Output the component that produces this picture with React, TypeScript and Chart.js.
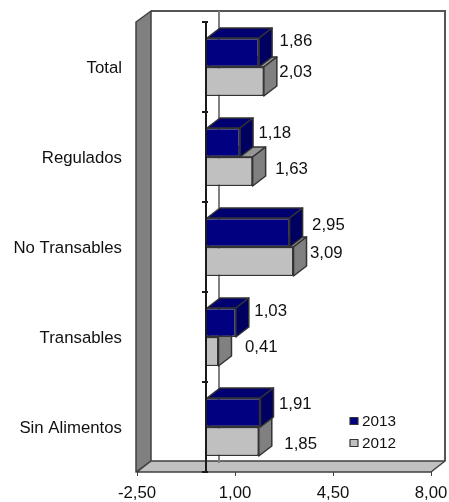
import React, { useEffect, useRef } from "react";
import { Chart, registerables } from "chart.js";

Chart.register(...registerables);

const categories = ["Total", "Regulados", "No Transables", "Transables", "Sin Alimentos"];
const series2013 = [1.86, 1.18, 2.95, 1.03, 1.91];
const series2012 = [2.03, 1.63, 3.09, 0.41, 1.85];
const xTicks = [-2.5, 1, 4.5, 8];

// nudges of the value labels, relative to each bar's end
const nudge2013 = [[20.5, -11.5], [18.5, -9.5], [22.5, -7.5], [18.5, -11.5], [18.5, -8.5]];
const nudge2012 = [[15.5, -9.5], [22.5, -2.5], [16.5, -8.5], [26.5, -4.5], [25.5, 2.5]];

const DX = 14;
const DY = -11;
const BAR_DX = 13;
const BAR_DY = -10;
const FONT = "Liberation Sans, Arial, sans-serif";
const FS = 16.8;
const fmt = (v: number) => v.toFixed(2).replace(".", ",");

const sideColors = [
  { side: "#000060", top: "#000070" },
  { side: "#808080", top: "#969696" },
];
const EDGE = "#333333";

function poly(ctx: CanvasRenderingContext2D, pts: number[][], fill: string | null, stroke: string | null, lw = 1.5) {
  ctx.beginPath();
  pts.forEach((p, i) => (i ? ctx.lineTo(p[0], p[1]) : ctx.moveTo(p[0], p[1])));
  ctx.closePath();
  if (fill) {
    ctx.fillStyle = fill;
    ctx.fill();
  }
  if (stroke) {
    ctx.strokeStyle = stroke;
    ctx.lineWidth = lw;
    ctx.lineJoin = "round";
    ctx.stroke();
  }
}

const box3d = {
  id: "box3d",
  beforeDatasetsDraw(chart: any) {
    const { ctx, chartArea: a, scales } = chart;
    const { left: l, right: r, top: t, bottom: b } = a;
    ctx.save();
    // back wall
    poly(ctx, [[l + DX, t + DY], [r + DX, t + DY], [r + DX, b + DY], [l + DX, b + DY]], "#ffffff", null);
    ctx.strokeStyle = "#555555";
    ctx.lineWidth = 2;
    ctx.beginPath();
    ctx.moveTo(l + DX, t + DY);
    ctx.lineTo(r + DX, t + DY);
    ctx.lineTo(r + DX, b + DY);
    ctx.stroke();
    // left wall
    poly(ctx, [[l - 1, t], [l + DX, t + DY], [l + DX, b + DY], [l - 1, b]], "#808080", "#404040", 1.5);
    // floor
    poly(ctx, [[l, b], [l + DX, b + DY], [r + DX, b + DY], [r, b]], "#c0c0c0", "#404040", 1.5);
    // category axis on the back wall
    const x0 = scales.x.getPixelForValue(0);
    ctx.strokeStyle = "#808080";
    ctx.lineWidth = 2;
    ctx.beginPath();
    ctx.moveTo(x0 + BAR_DX - 1, t + DY);
    ctx.lineTo(x0 + BAR_DX - 1, b + DY + 2);
    ctx.stroke();
    ctx.restore();
  },
  beforeDatasetDraw(chart: any, args: any) {
    const { ctx } = chart;
    const c = sideColors[args.index];
    ctx.save();
    args.meta.data.forEach((el: any) => {
      const h = el.height / 2;
      const x = el.x;
      const b = el.base;
      const y0 = el.y - h;
      const y1 = el.y + h;
      poly(ctx, [[b, y0], [b + BAR_DX, y0 + BAR_DY], [x + BAR_DX, y0 + BAR_DY], [x, y0]], c.top, EDGE);
      poly(ctx, [[x, y0], [x + BAR_DX, y0 + BAR_DY], [x + BAR_DX, y1 + BAR_DY], [x, y1]], c.side, EDGE);
    });
    ctx.restore();
  },
  afterDatasetsDraw(chart: any) {
    const { ctx, chartArea: a, scales, data } = chart;
    const x0 = scales.x.getPixelForValue(0);
    ctx.save();
    // category axis and its ticks, at the band boundaries
    ctx.strokeStyle = "#1a1a1a";
    ctx.lineWidth = 2;
    ctx.beginPath();
    ctx.moveTo(x0 - 1, a.top);
    ctx.lineTo(x0 - 1, a.bottom + 1);
    const band = (a.bottom - a.top) / categories.length;
    for (let i = 0; i <= categories.length; i++) {
      const y = scales.y.getPixelForValue(i) - band / 2;
      ctx.moveTo(x0 - 5, y);
      ctx.lineTo(x0 + 1, y);
    }
    ctx.stroke();

    // value labels
    ctx.fillStyle = "#111111";
    ctx.font = `${FS}px ${FONT}`;
    ctx.textAlign = "left";
    ctx.textBaseline = "middle";
    [nudge2013, nudge2012].forEach((nudge, d) => {
      chart.getDatasetMeta(d).data.forEach((el: any, i: number) => {
        ctx.fillText(fmt(data.datasets[d].data[i]), el.x + nudge[i][0], el.y + nudge[i][1]);
      });
    });

    // legend
    const lx = 350;
    const ly = [scales.y.getPixelForValue(4) - 6, scales.y.getPixelForValue(4) + 16];
    data.datasets.forEach((ds: any, d: number) => {
      poly(ctx, [[lx, ly[d] - 3.5], [lx + 8, ly[d] - 3.5], [lx + 8, ly[d] + 3.5], [lx, ly[d] + 3.5]], ds.backgroundColor, EDGE, 1.2);
      ctx.fillStyle = "#111111";
      ctx.font = `15.3px ${FONT}`;
      ctx.fillText(ds.label, lx + 12, ly[d] + 0.5);
    });
    ctx.restore();
  },
};

export default function App() {
  const ref = useRef<HTMLCanvasElement>(null);
  useEffect(() => {
    document.body.style.margin = "0";
    const chart = new Chart(ref.current as HTMLCanvasElement, {
      type: "bar",
      data: {
        labels: categories,
        datasets: [
          { label: "2013", data: series2013, backgroundColor: "#000080", borderColor: EDGE, borderWidth: 1.5, barPercentage: 1, categoryPercentage: 0.645 },
          { label: "2012", data: series2012, backgroundColor: "#c0c0c0", borderColor: EDGE, borderWidth: 1.5, barPercentage: 1, categoryPercentage: 0.645 },
        ],
      },
      options: {
        indexAxis: "y",
        responsive: false,
        animation: false,
        layout: { padding: { top: 22, right: 18, left: 0, bottom: 0 } },
        plugins: { legend: { display: false }, tooltip: { enabled: false } },
        scales: {
          x: {
            min: -2.5,
            max: 8,
            afterBuildTicks: (s: any) => {
              s.ticks = xTicks.map((value) => ({ value }));
            },
            afterFit: (s: any) => {
              s.height = 30;
              s.paddingLeft = 0;
              s.paddingRight = 0;
            },
            grid: { drawOnChartArea: false, drawTicks: true, tickLength: 4, color: "#404040" },
            border: { display: false },
            ticks: {
              autoSkip: false,
              maxRotation: 0,
              padding: 7,
              color: "#111111",
              font: { family: FONT, size: FS },
              callback: (v: any) => fmt(Number(v)),
            },
          },
          y: {
            afterFit: (s: any) => {
              s.width = 137;
              s.paddingTop = 0;
              s.paddingBottom = 0;
            },
            grid: { display: false, drawTicks: false },
            border: { display: false },
            ticks: { padding: 15, labelOffset: 1, color: "#111111", font: { family: FONT, size: FS } },
          },
        },
      },
      plugins: [box3d],
    } as any);
    return () => chart.destroy();
  }, []);
  return <canvas ref={ref} width={449} height={502} style={{ display: "block" }} />;
}
